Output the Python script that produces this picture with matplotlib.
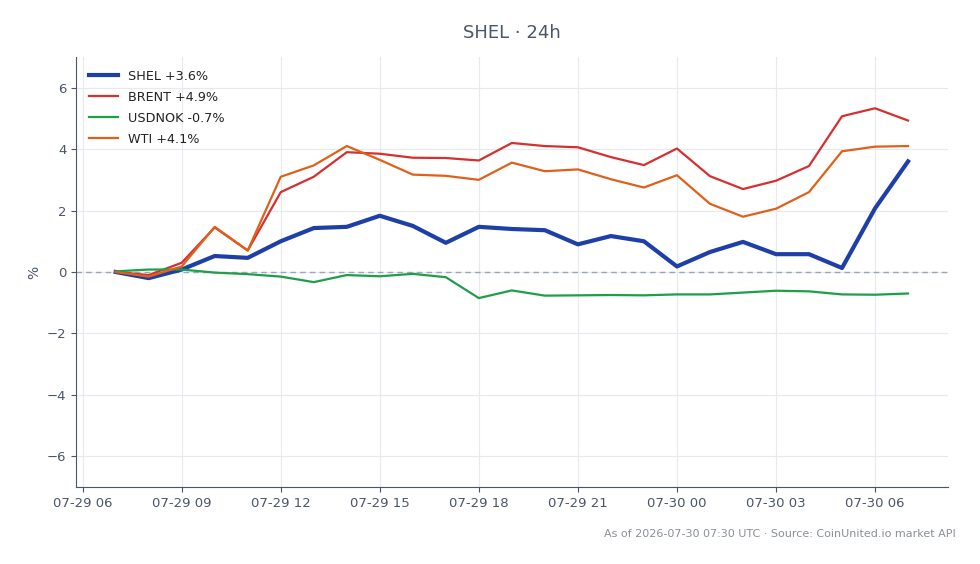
import numpy as np
import pandas as pd
import matplotlib
matplotlib.use("Agg")
import matplotlib.pyplot as plt
import matplotlib.dates as mdates

# hourly points, 2026-07-29 07:00 .. 2026-07-30 07:00
times = pd.date_range("2026-07-29 07:00", periods=25, freq="h")

shel = [0.0, -0.2, 0.08, 0.52, 0.46, 1.0, 1.43, 1.47, 1.83, 1.5, 0.95, 1.47, 1.4,
        1.36, 0.9, 1.17, 1.0, 0.18, 0.65, 0.98, 0.58, 0.58, 0.13, 2.07, 3.6]
brent = [0.0, -0.1, 0.3, 1.45, 0.7, 2.6, 3.1, 3.9, 3.85, 3.72, 3.71, 3.63, 4.2,
         4.1, 4.06, 3.74, 3.48, 4.02, 3.12, 2.7, 2.97, 3.45, 5.07, 5.33, 4.93]
usdnok = [0.02, 0.08, 0.08, -0.02, -0.07, -0.15, -0.33, -0.1, -0.14, -0.06, -0.17, -0.85, -0.6,
          -0.77, -0.76, -0.75, -0.76, -0.73, -0.73, -0.67, -0.61, -0.63, -0.73, -0.74, -0.7]
wti = [0.0, -0.15, 0.18, 1.47, 0.7, 3.1, 3.47, 4.1, 3.65, 3.17, 3.13, 3.0, 3.56,
       3.28, 3.34, 3.02, 2.75, 3.15, 2.22, 1.8, 2.06, 2.6, 3.93, 4.08, 4.1]

labels = ["SHEL +3.6%", "BRENT +4.9%", "USDNOK -0.7%", "WTI +4.1%"]
colors = ["#1e3fa8", "#d62f2f", "#1f9e4a", "#e0601a"]
widths = [3.0, 1.6, 1.6, 1.6]

text_col = "#4a5568"

fig, ax = plt.subplots(figsize=(9.8, 5.64), dpi=100)
fig.subplots_adjust(left=0.0776, right=0.967, top=0.899, bottom=0.1365)

for series, lab, c, w in zip([shel, brent, usdnok, wti], labels, colors, widths):
    ax.plot(times, series, color=c, lw=w, label=lab, zorder=3)

ax.axhline(0, color="#9aa5b8", lw=1, ls=(0, (4, 3)), zorder=2)

ax.set_ylim(-7, 7)
ax.set_yticks([-6, -4, -2, 0, 2, 4, 6])
ax.yaxis.set_major_formatter(matplotlib.ticker.FuncFormatter(
    lambda v, p: f"{int(v)}".replace("-", "\u2212")))
ax.xaxis.set_major_locator(mdates.HourLocator(byhour=range(0, 24, 3)))
ax.xaxis.set_major_formatter(mdates.DateFormatter("%m-%d %H"))

ax.grid(True, color="#e6e9ef", lw=0.8, zorder=1)
ax.set_axisbelow(True)
for s in ["top", "right"]:
    ax.spines[s].set_visible(False)
for s in ["left", "bottom"]:
    ax.spines[s].set_color(text_col)
ax.tick_params(colors=text_col, labelsize=9.5)
ax.set_ylabel("%", color=text_col, fontsize=10)

ax.set_title("SHEL · 24h", color=text_col, fontsize=13, pad=14)
ax.legend(loc="upper left", frameon=False, fontsize=9.2, labelcolor="#222222",
          handlelength=2.3, labelspacing=0.62, borderaxespad=0.6)

fig.text(0.975, 0.053, "As of 2026-07-30 07:30 UTC · Source: CoinUnited.io market API",
         ha="right", va="center", fontsize=8, color="#8a8f98")

fig.savefig("out.png", dpi=100)
